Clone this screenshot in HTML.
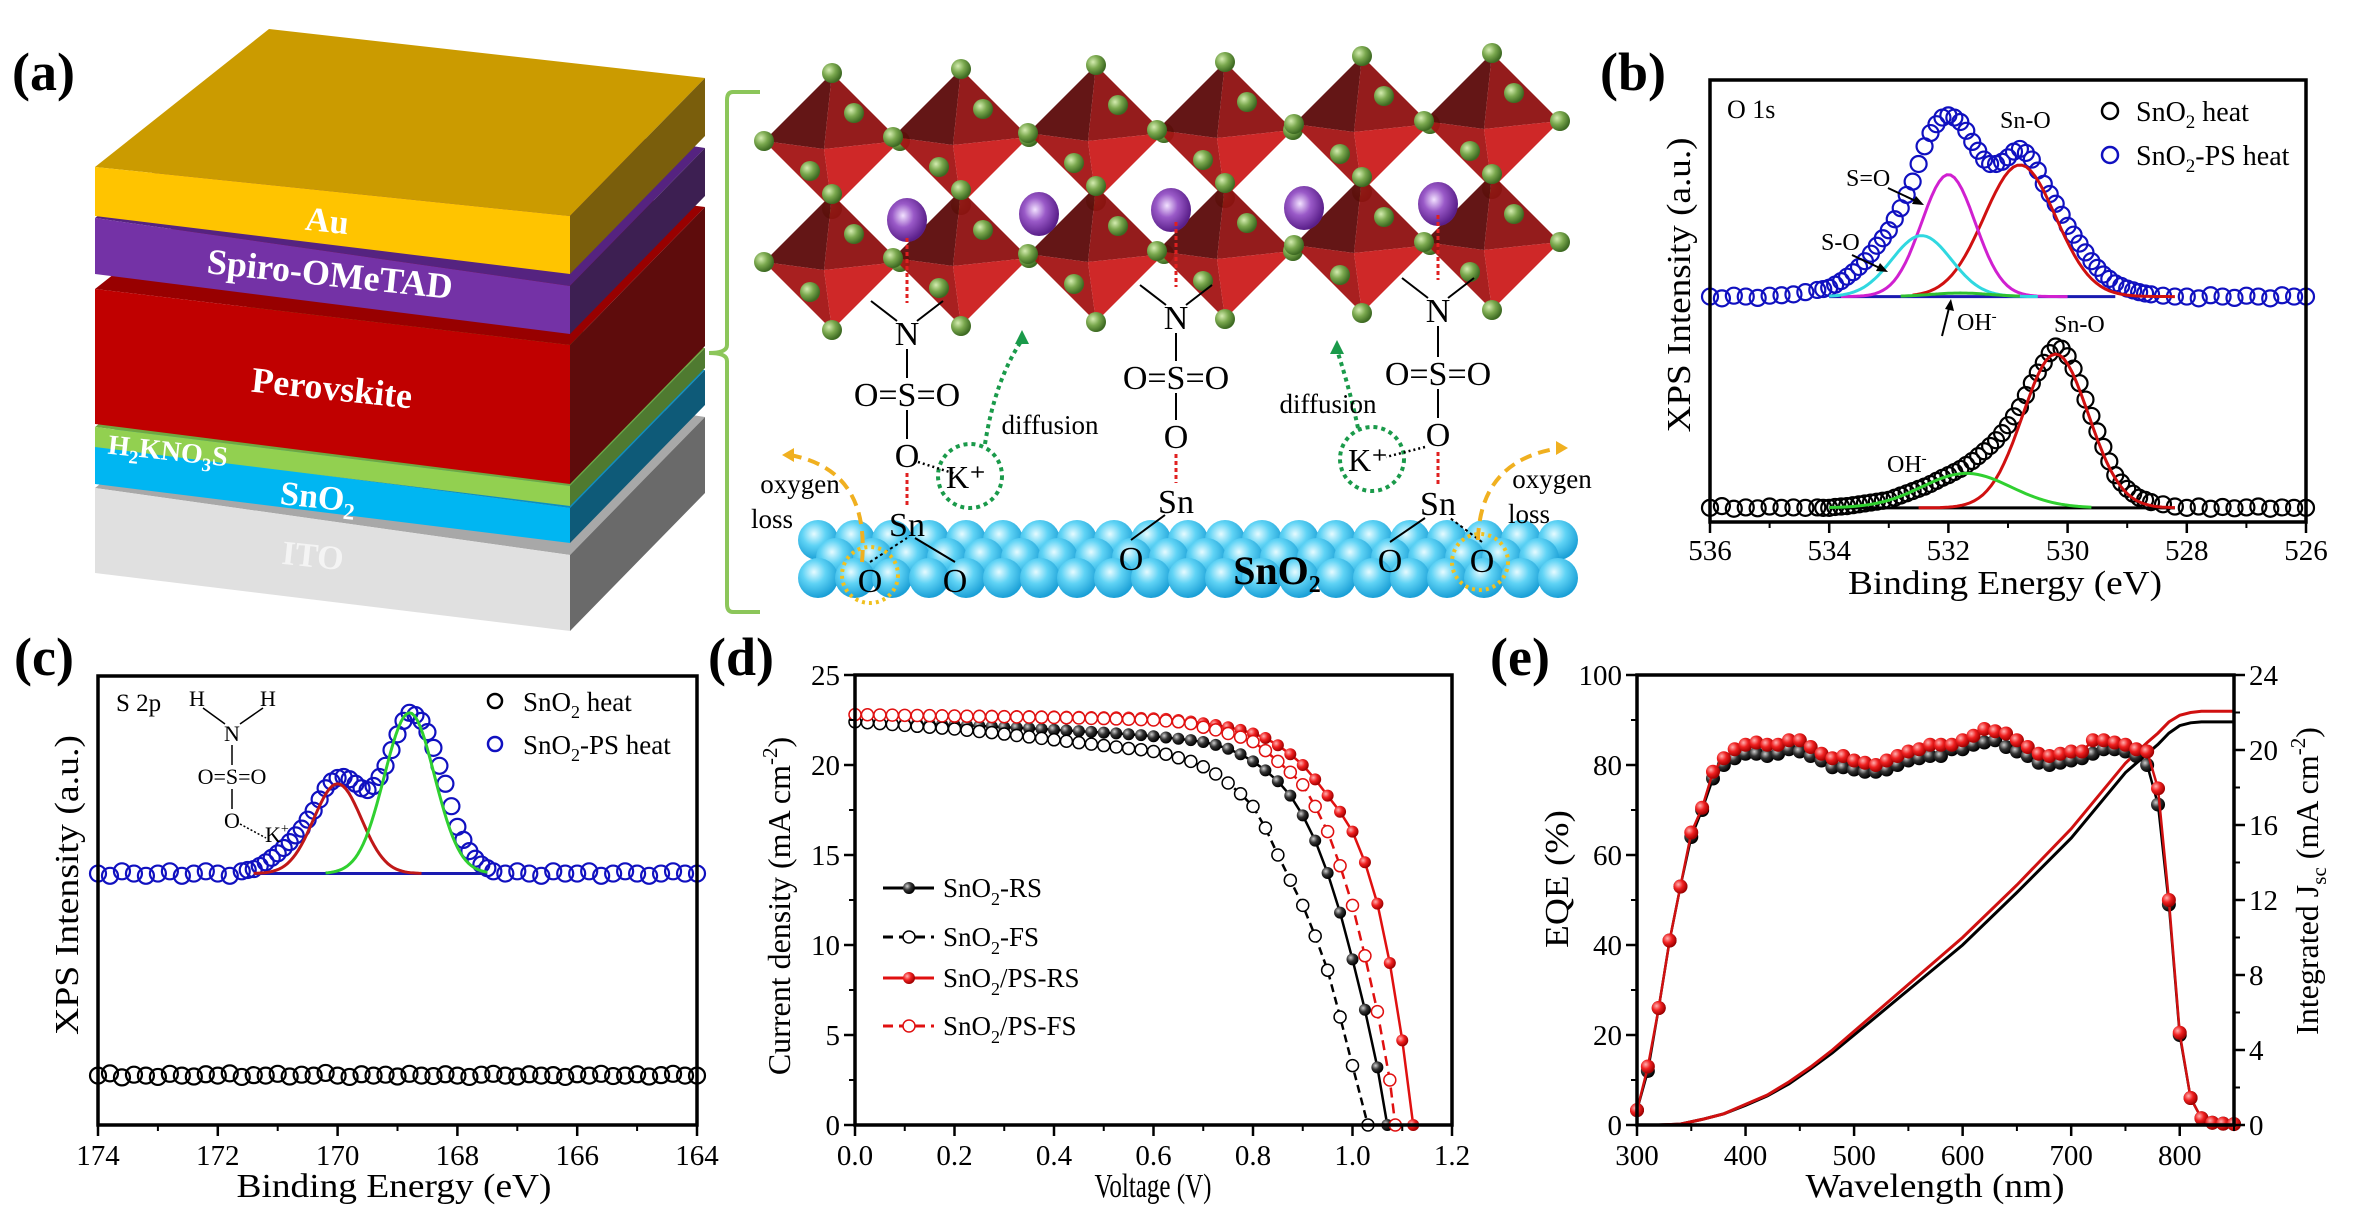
<!DOCTYPE html>
<html><head><meta charset="utf-8"><style>
html,body{margin:0;padding:0;background:#fff;}
svg{display:block;font-family:"Liberation Serif","Times New Roman",serif;}
</style></head><body>
<svg id="fig" width="2353" height="1224" viewBox="0 0 2353 1224" xmlns="http://www.w3.org/2000/svg">
<defs>
<radialGradient id="gGreen" cx="35%" cy="35%" r="65%"><stop offset="0" stop-color="#d4ecb0"/><stop offset="0.5" stop-color="#7aa84e"/><stop offset="1" stop-color="#3d6a22"/></radialGradient>
<radialGradient id="gPurple" cx="40%" cy="40%" r="60%"><stop offset="0" stop-color="#f2e2ff"/><stop offset="0.45" stop-color="#9a5ac8"/><stop offset="1" stop-color="#5a1f8a"/></radialGradient>
<radialGradient id="gBlue" cx="40%" cy="35%" r="65%"><stop offset="0" stop-color="#e6fbff"/><stop offset="0.45" stop-color="#5fd3f5"/><stop offset="1" stop-color="#1a9fd6"/></radialGradient>
<radialGradient id="gRed" cx="35%" cy="35%" r="65%"><stop offset="0" stop-color="#ffb0b0"/><stop offset="0.5" stop-color="#f02020"/><stop offset="1" stop-color="#a00000"/></radialGradient>
<radialGradient id="gBlack" cx="35%" cy="35%" r="65%"><stop offset="0" stop-color="#cfcfcf"/><stop offset="0.5" stop-color="#333"/><stop offset="1" stop-color="#000"/></radialGradient>
</defs>

<text x="12" y="90" font-size="54" font-weight="bold">(a)</text>
<text x="1600" y="90" font-size="54" font-weight="bold">(b)</text>
<text x="14" y="675" font-size="54" font-weight="bold">(c)</text>
<text x="708" y="675" font-size="54" font-weight="bold">(d)</text>
<text x="1490" y="675" font-size="54" font-weight="bold">(e)</text>

<g id="stack"></g>
<g id="stackLabels" font-weight="bold" fill="#fff" text-anchor="middle">
<text x="327" y="232" font-size="34" transform="rotate(6 327 222)">Au</text>
<text x="330" y="286" font-size="36" transform="rotate(6 330 274)">Spiro-OMeTAD</text>
<text x="332" y="400" font-size="36" transform="rotate(6 332 388)">Perovskite</text>
<text x="168" y="460" font-size="28" transform="rotate(6 168 450)">H<tspan font-size="19" dy="7">2</tspan><tspan dy="-7">KNO</tspan><tspan font-size="19" dy="7">3</tspan><tspan dy="-7">S</tspan></text>
<text x="318" y="508" font-size="34" transform="rotate(6 318 498)">SnO<tspan font-size="23" dy="8">2</tspan></text>
<text x="313" y="567" font-size="34" fill="#f4f4f4" transform="rotate(6 313 555)">ITO</text>
</g>
<path d="M760 92 L733 92 Q727 92 727 100 L727 345 Q727 353 709 353 Q727 353 727 361 L727 604 Q727 612 733 612 L760 612" fill="none" stroke="#8cc65a" stroke-width="4"/>

<g id="mol"></g>
<g id="charts"></g>

<g font-size="24">
<text x="1727" y="118" font-size="26">O 1s</text>
<text x="2000" y="128">Sn-O</text>
<text x="1846" y="186">S=O</text>
<text x="1821" y="250">S-O</text>
<text x="1957" y="330">OH<tspan font-size="15" dy="-9">-</tspan></text>
<text x="2054" y="332">Sn-O</text>
<text x="1887" y="472">OH<tspan font-size="15" dy="-9">-</tspan></text>
<line x1="1888" y1="188" x2="1920" y2="203" stroke="#000" stroke-width="2"/>
<polygon points="1924,205 1912,204 1916,196" fill="#000"/>
<line x1="1852" y1="255" x2="1884" y2="270" stroke="#000" stroke-width="2"/>
<polygon points="1888,272 1876,271 1880,263" fill="#000"/>
<line x1="1942" y1="336" x2="1950" y2="304" stroke="#000" stroke-width="2"/>
<polygon points="1951,299 1954,311 1945,309" fill="#000"/>
</g>
<g font-size="28">
<circle cx="2110" cy="111" r="8" fill="none" stroke="#000" stroke-width="2.5"/>
<text x="2136" y="121">SnO<tspan font-size="19" dy="7">2</tspan><tspan dy="-7"> heat</tspan></text>
<circle cx="2110" cy="155" r="8" fill="none" stroke="#1010c0" stroke-width="2.5"/>
<text x="2136" y="165">SnO<tspan font-size="19" dy="7">2</tspan><tspan dy="-7">-PS heat</tspan></text>
</g>

<g font-size="22">
<text x="116" y="711" font-size="25">S 2p</text>
<text x="189" y="706">H</text>
<text x="260" y="706">H</text>
<line x1="203" y1="708" x2="225" y2="724" stroke="#000" stroke-width="1.5"/>
<line x1="263" y1="708" x2="240" y2="724" stroke="#000" stroke-width="1.5"/>
<text x="224" y="741">N</text>
<line x1="232" y1="745" x2="232" y2="765" stroke="#000" stroke-width="1.5"/>
<text x="232" y="784" text-anchor="middle">O=S=O</text>
<line x1="232" y1="789" x2="232" y2="809" stroke="#000" stroke-width="1.5"/>
<text x="224" y="828">O</text>
<line x1="240" y1="824" x2="266" y2="838" stroke="#000" stroke-width="1.5" stroke-dasharray="2,2"/>
<text x="265" y="842">K<tspan font-size="14" dy="-9">+</tspan></text>
</g>
<g font-size="27">
<circle cx="495" cy="701" r="7" fill="none" stroke="#000" stroke-width="2.5"/>
<text x="523" y="711">SnO<tspan font-size="18" dy="7">2</tspan><tspan dy="-7"> heat</tspan></text>
<circle cx="495" cy="744" r="7" fill="none" stroke="#1010c0" stroke-width="2.5"/>
<text x="523" y="754">SnO<tspan font-size="18" dy="7">2</tspan><tspan dy="-7">-PS heat</tspan></text>
</g>

<g font-size="34">
<text x="2005" y="594" text-anchor="middle" textLength="314" lengthAdjust="spacingAndGlyphs">Binding Energy (eV)</text>
<text x="0" y="0" text-anchor="middle" textLength="295" lengthAdjust="spacingAndGlyphs" transform="translate(1690 285) rotate(-90)">XPS Intensity (a.u.)</text>
<text x="394" y="1197" text-anchor="middle" textLength="315" lengthAdjust="spacingAndGlyphs">Binding Energy (eV)</text>
<text x="0" y="0" text-anchor="middle" textLength="300" lengthAdjust="spacingAndGlyphs" transform="translate(78 885) rotate(-90)">XPS Intensity (a.u.)</text>
<text x="1153" y="1197" text-anchor="middle" textLength="117" lengthAdjust="spacingAndGlyphs">Voltage (V)</text>
<text x="0" y="0" text-anchor="middle" font-size="32" transform="translate(790 906) rotate(-90)">Current density (mA cm<tspan font-size="21" dy="-13">-2</tspan><tspan dy="13">)</tspan></text>
<text x="1935" y="1197" text-anchor="middle" textLength="259" lengthAdjust="spacingAndGlyphs">Wavelength (nm)</text>
<text x="0" y="0" text-anchor="middle" textLength="138" lengthAdjust="spacingAndGlyphs" transform="translate(1568 879) rotate(-90)">EQE (%)</text>
<text x="0" y="0" text-anchor="middle" font-size="32" transform="translate(2318 881) rotate(-90)">Integrated J<tspan font-size="21" dy="8">sc</tspan><tspan dy="-8"> (mA cm</tspan><tspan font-size="21" dy="-13">-2</tspan><tspan dy="13">)</tspan></text>
</g>

<g font-size="27">
<line x1="883" y1="888" x2="934" y2="888" stroke="#000" stroke-width="3"/>
<circle cx="909" cy="888" r="6" fill="url(#gBlack)"/>
<text x="943" y="897">SnO<tspan font-size="18" dy="8">2</tspan><tspan dy="-8">-RS</tspan></text>
<line x1="883" y1="937" x2="934" y2="937" stroke="#000" stroke-width="3" stroke-dasharray="10,6"/>
<circle cx="909" cy="937" r="6" fill="#fff" stroke="#000" stroke-width="1.5"/>
<text x="943" y="946">SnO<tspan font-size="18" dy="8">2</tspan><tspan dy="-8">-FS</tspan></text>
<line x1="883" y1="978" x2="934" y2="978" stroke="#e01010" stroke-width="3"/>
<circle cx="909" cy="978" r="6" fill="url(#gRed)"/>
<text x="943" y="987">SnO<tspan font-size="18" dy="8">2</tspan><tspan dy="-8">/PS-RS</tspan></text>
<line x1="883" y1="1026" x2="934" y2="1026" stroke="#e01010" stroke-width="3" stroke-dasharray="10,6"/>
<circle cx="909" cy="1026" r="6" fill="#fff" stroke="#e01010" stroke-width="1.5"/>
<text x="943" y="1035">SnO<tspan font-size="18" dy="8">2</tspan><tspan dy="-8">/PS-FS</tspan></text>
</g>
</svg>

<script>
// ---------------- DATA ----------------
// Panel b (O 1s XPS), intensity in arbitrary units 0..100 of plot height
const bEnergy = [536,535.8,535.6,535.4,535.2,535,534.8,534.6,534.4,
534.2,534.1,534,533.9,533.8,533.7,533.6,533.5,533.4,533.3,533.2,533.1,533,532.9,532.8,532.7,532.6,532.5,532.4,532.3,532.2,532.1,532,531.9,531.8,531.7,531.6,531.5,531.4,531.3,531.2,531.1,531,530.9,530.8,530.7,530.6,530.5,530.4,530.3,530.2,530.1,530,529.9,529.8,529.7,529.6,529.5,529.4,529.3,529.2,529.1,529,528.9,528.8,528.7,528.6,
528.4,528.2,528,527.8,527.6,527.4,527.2,527,526.8,526.6,526.4,526.2,526];
const bPS = [51,50.6,51.2,51,50.7,51.2,51.3,51.5,52,
52.5,52.7,53,53.7,54.5,55.5,56.5,57.7,59,60.7,62.5,64.2,66,68.5,71,74,77,81,85,88,90,91.5,92,91.5,90.5,88.5,86,84,82,81,81,81.5,82.5,83.8,84.4,83.5,82,79.5,76.5,74.2,72,69.5,67,65,63,61,59,57.5,56,55,54,53.4,52.8,52.4,52,51.7,51.5,
51.2,51,51,50.6,51.3,51,50.7,51.2,51,50.6,51.3,51,51];
const bSnO2 = [3.2,3.6,3,3.3,3.1,3.5,3.2,3.3,3.2,
3.3,3.2,3.2,3.4,3.5,3.6,3.8,4,4.2,4.4,4.6,4.8,5,5.5,6,6.5,7,7.5,8,8.6,9.3,10,10.6,11.3,12,12.9,13.8,14.9,16,17.2,18.5,20.1,21.9,23.9,26,28.7,31.4,33.8,36,38.2,39.7,39.2,37.5,34.7,31.4,27.7,24,20.5,17,13.7,10.6,8.9,7.5,6.4,5.5,5,4.5,
4,3.5,3.2,3.5,3,3.4,3.1,3.3,3.5,3,3.3,3.2,3.2];
const bFitNames = ['ps-sn-o','ps-s-double-o','ps-s-o','ps-oh','sno2-sn-o','sno2-oh'];
const bFitCenter = [530.8,532.0,532.45,531.8,530.2,531.7];
const bFitHeight = [29.8,27.6,13.8,0.8,34.8,7.8];
const bFitSigma = [0.6,0.45,0.5,0.5,0.55,0.75];
const bFitBase = [51,51,51,51,3.2,3.2];
const bFitFrom = [532.6,533.8,534.0,532.8,532.5,534.0];
const bFitTo = [528.2,530.0,530.5,530.8,528.2,529.6];
const bFitColor = ['#d01010','#d020d0','#30d8e0','#30c030','#d01010','#30d030'];

// Panel c (S 2p XPS)
const cEnergyPS = [174,173.8,173.6,173.4,173.2,173,172.8,172.6,172.4,172.2,172,171.8,
171.6,171.5,171.4,171.3,171.2,171.1,171,170.9,170.8,170.7,170.6,170.5,170.4,170.3,170.2,170.1,170,169.9,169.8,169.7,169.6,169.5,169.4,169.3,169.2,169.1,169,168.9,168.8,168.7,168.6,168.5,168.4,168.3,168.2,168.1,168,167.9,167.8,167.7,167.6,167.5,167.4,
167.2,167,166.8,166.6,166.4,166.2,166,165.8,165.6,165.4,165.2,165,164.8,164.6,164.4,164.2,164];
const cPS = [56,55.5,56.5,56,55.5,56,56.5,55.5,56,56.5,56,55.5,
56.5,56.8,57,57.7,58.5,59.5,60.5,61.7,63,64.5,66,68,70,72.5,75,76.5,77.3,77.5,77,76,75,74.6,75.5,77.5,80,83.5,87,90,91.8,91.3,90,87.5,84,80,76,71,66.4,63.5,61,59.3,58,57.2,56.5,
56,56.5,56,55.5,56.5,56,56,56.5,55.5,56,56.5,56,55.5,56,56.5,56,56];
const cEnergySnO2 = [174,173.8,173.6,173.4,173.2,173,172.8,172.6,172.4,172.2,172,171.8,171.6,171.4,171.2,171,170.8,170.6,170.4,170.2,170,169.8,169.6,169.4,169.2,169,168.8,168.6,168.4,168.2,168,167.8,167.6,167.4,167.2,167,166.8,166.6,166.4,166.2,166,165.8,165.6,165.4,165.2,165,164.8,164.6,164.4,164.2,164];
const cSnO2 = [11,11.5,10.6,11.2,11,10.7,11.4,11,10.8,11.3,11,11.5,10.7,11.1,11,11.4,10.8,11.2,11,11.6,11,10.7,11.3,11,11.2,10.8,11.4,11,10.9,11.3,11,10.7,11.2,11.4,11,10.8,11.3,11,11.1,10.7,11.3,11,11.4,10.9,11,11.3,10.8,11.1,11.4,11,11];
const cFitCenter = [170.0,168.8];
const cFitHeight = [20,35.8];
const cFitSigma = [0.4,0.42];
const cFitBase = [56,56];
const cFitFrom = [171.4,170.2];
const cFitTo = [168.6,167.5];
const cFitColor = ['#c01818','#30d030'];

// Panel d (J-V)
const dV_RS = [0,0.025,0.05,0.075,0.1,0.125,0.15,0.175,0.2,0.225,0.25,0.275,0.3,0.325,0.35,0.375,0.4,0.425,0.45,0.475,0.5,0.525,0.55,0.575,0.6,0.625,0.65,0.675,0.7,0.725,0.75,0.775,0.8,0.825,0.85,0.875,0.9,0.925,0.95,0.975,1.0,1.025,1.05,1.07];
const dJ_RS = [22.4,22.38,22.36,22.34,22.32,22.3,22.27,22.25,22.22,22.2,22.17,22.14,22.1,22.07,22.04,22.0,21.96,21.92,21.88,21.84,21.8,21.76,21.71,21.66,21.6,21.53,21.46,21.38,21.28,21.12,20.9,20.6,20.2,19.7,19.1,18.3,17.2,15.8,14.0,11.8,9.2,6.4,3.2,0];
const dV_FS = [0,0.025,0.05,0.075,0.1,0.125,0.15,0.175,0.2,0.225,0.25,0.275,0.3,0.325,0.35,0.375,0.4,0.425,0.45,0.475,0.5,0.525,0.55,0.575,0.6,0.625,0.65,0.675,0.7,0.725,0.75,0.775,0.8,0.825,0.85,0.875,0.9,0.925,0.95,0.975,1.0,1.031];
const dJ_FS = [22.4,22.35,22.3,22.25,22.2,22.15,22.1,22.05,22.0,21.93,21.86,21.8,21.72,21.64,21.56,21.48,21.4,21.32,21.24,21.16,21.08,21.0,20.92,20.85,20.75,20.6,20.4,20.2,19.9,19.5,19.0,18.4,17.7,16.5,15.0,13.6,12.2,10.5,8.6,6.0,3.3,0];
const dV_PSRS = [0,0.025,0.05,0.075,0.1,0.125,0.15,0.175,0.2,0.225,0.25,0.275,0.3,0.325,0.35,0.375,0.4,0.425,0.45,0.475,0.5,0.525,0.55,0.575,0.6,0.625,0.65,0.675,0.7,0.725,0.75,0.775,0.8,0.825,0.85,0.875,0.9,0.925,0.95,0.975,1.0,1.025,1.05,1.075,1.1,1.122];
const dJ_PSRS = [22.8,22.8,22.79,22.79,22.78,22.78,22.77,22.77,22.76,22.75,22.75,22.74,22.73,22.72,22.72,22.71,22.7,22.69,22.68,22.67,22.66,22.65,22.64,22.62,22.6,22.56,22.5,22.42,22.32,22.22,22.1,21.95,21.75,21.5,21.1,20.6,20.0,19.2,18.3,17.4,16.3,14.6,12.3,9.0,4.7,0];
const dV_PSFS = [0,0.025,0.05,0.075,0.1,0.125,0.15,0.175,0.2,0.225,0.25,0.275,0.3,0.325,0.35,0.375,0.4,0.425,0.45,0.475,0.5,0.525,0.55,0.575,0.6,0.625,0.65,0.675,0.7,0.725,0.75,0.775,0.8,0.825,0.85,0.875,0.9,0.925,0.95,0.975,1.0,1.025,1.05,1.075,1.086];
const dJ_PSFS = [22.8,22.79,22.78,22.77,22.76,22.75,22.74,22.73,22.72,22.71,22.7,22.69,22.68,22.67,22.66,22.65,22.64,22.62,22.61,22.59,22.58,22.56,22.54,22.52,22.5,22.45,22.4,22.3,22.1,21.95,21.75,21.55,21.3,20.8,20.2,19.6,18.9,17.7,16.3,14.4,12.2,9.4,6.3,2.5,0];

// Panel e (EQE + integrated Jsc)
const eWave = [300,310,320,330,340,350,360,370,380,390,400,410,420,430,440,450,460,470,480,490,500,510,520,530,540,550,560,570,580,590,600,610,620,630,640,650,660,670,680,690,700,710,720,730,740,750,760,770,780,790,800,810,820,830,840,850];
const eEQE_PS = [3.3,13,26,41,53,65,70.5,78.5,81.5,83.5,84.5,85,84.5,84.5,85.5,85.5,84,82.5,81.5,82,81,80.5,80,81,82,83,83.5,84.5,84.5,84.5,85.5,86.5,88,87.5,87,85.5,84,82.5,82,82.5,83,83,85.5,85.5,85,84.5,83.5,83,74.8,50,20.5,6,1.5,0.5,0.3,0.2];
const eEQE_SnO2 = [3.3,12,26,41,53,64,70,77,80,81.5,82.5,82.5,82,82.5,83.5,83,82,81,79.5,79.5,79,78.5,78.5,79,80,81,81.5,82,82,83.5,83.5,84.5,85,85.5,84,83,82,80.5,80,80.5,81,81.5,82.5,83.5,83.5,83,82,80,71.2,49,20,6,1.5,0.5,0.3,0.2];
const eJscWave = [300,320,340,360,380,400,420,440,460,480,500,550,600,650,700,750,770,780,790,800,810,820,850];
const eJsc_PS = [0,0,0.05,0.3,0.6,1.1,1.6,2.3,3.1,4.0,5.0,7.5,10.0,12.8,15.8,19.3,20.4,20.9,21.5,21.85,22.0,22.07,22.07];
const eJsc_SnO2 = [0,0,0.05,0.3,0.6,1.05,1.55,2.2,3.0,3.85,4.8,7.2,9.6,12.4,15.3,18.8,19.8,20.3,20.9,21.3,21.45,21.5,21.5];

// Tick labels
const bTicks = [536,534,532,530,528,526];
const cTicks = [174,172,170,168,166,164];
const dXTicks = ['0.0','0.2','0.4','0.6','0.8','1.0','1.2'];
const dYTicks = [0,5,10,15,20,25];
const eXTicks = [300,400,500,600,700,800];
const eYTicks = [0,20,40,60,80,100];
const eY2Ticks = [0,4,8,12,16,20,24];

// ---------------- HELPERS ----------------
const NS = 'http://www.w3.org/2000/svg';
const svg = document.getElementById('fig');
function mk(tag, attrs, parent){
  const e = document.createElementNS(NS, tag);
  for (const k in attrs) e.setAttribute(k, attrs[k]);
  (parent || svg).appendChild(e);
  return e;
}
function lin(d0,d1,r0,r1){ return v => r0 + (v-d0)/(d1-d0)*(r1-r0); }
function pathD(xs, ys, X, Y){ let s=''; for(let i=0;i<xs.length;i++){ s += (i?'L':'M') + X(xs[i]).toFixed(1) + ' ' + Y(ys[i]).toFixed(1); } return s; }

const charts = document.getElementById('charts');

function frame(name){
  const g = mk('g', {}, charts);
  
  
  return g;
}
function box(g, x0, x1, y0, y1){
  const r = mk('rect', {x:x0, y:y0, width:x1-x0, height:y1-y0, fill:'none', stroke:'#000', 'stroke-width':3.5}, g);
  
  
}
function xTicks(g, X, vals, labels, y, minorVals, labelY){
  vals.forEach((v,i)=>{
    const t = mk('line', {x1:X(v), x2:X(v), y1:y, y2:y+11, stroke:'#000', 'stroke-width':2.5}, g);
    
    
    const l = mk('text', {x:X(v), y:labelY, 'font-size':29, 'text-anchor':'middle'}, g);
    
    
    l.textContent = labels[i];
  });
  minorVals.forEach(v=>{
    const t = mk('line', {x1:X(v), x2:X(v), y1:y, y2:y+6, stroke:'#000', 'stroke-width':2}, g);
    
    
  });
}
function yTicks(g, Y, vals, labels, x, dir, minorVals){
  vals.forEach((v,i)=>{
    const t = mk('line', {x1:x, x2:x+dir*11, y1:Y(v), y2:Y(v), stroke:'#000', 'stroke-width':2.5}, g);
    
    
    const l = mk('text', {x:x+dir*15, y:Y(v)+10, 'font-size':29, 'text-anchor': dir<0?'end':'start'}, g);
    
    
    l.textContent = labels[i];
  });
  minorVals.forEach(v=>{
    const t = mk('line', {x1:x, x2:x+dir*6, y1:Y(v), y2:Y(v), stroke:'#000', 'stroke-width':2}, g);
    
    
  });
}
function gaussPath(X, Y, c, h, s, base, from, to){
  const pts=[]; const n=60;
  for(let i=0;i<=n;i++){ const e = from + (to-from)*i/n; pts.push([X(e), Y(base + h*Math.exp(-((e-c)*(e-c))/(2*s*s)))]); }
  return 'M'+pts.map(p=>p[0].toFixed(1)+' '+p[1].toFixed(1)).join('L');
}

// ---------------- PANEL B ----------------
(function(){
  const g = frame('panel-b-o1s-xps');
  const X = lin(536,526,1710,2306), Y = lin(0,100,522,80);
  const s1 = mk('g', {}, g);
  
  
  bEnergy.forEach((e,i)=>{
    const c = mk('circle', {cx:X(e), cy:Y(bSnO2[i]), r:8, fill:'none', stroke:'#000', 'stroke-width':2.2}, s1);
    
    
  });
  const s2 = mk('g', {}, g);
  
  
  bEnergy.forEach((e,i)=>{
    const c = mk('circle', {cx:X(e), cy:Y(bPS[i]), r:8, fill:'none', stroke:'#1010c0', 'stroke-width':2.2}, s2);
    
    
  });
  const bl1 = mk('line', {x1:X(534), x2:X(529.2), y1:Y(51), y2:Y(51), stroke:'#1a1ab0', 'stroke-width':3}, g);
  
  
  const bl2 = mk('line', {x1:X(534), x2:X(528.2), y1:Y(3.2), y2:Y(3.2), stroke:'#000', 'stroke-width':3}, g);
  
  
  bFitCenter.forEach((c,i)=>{
    const p = mk('path', {d:gaussPath(X,Y,c,bFitHeight[i],bFitSigma[i],bFitBase[i],bFitFrom[i],bFitTo[i]), fill:'none', stroke:bFitColor[i], 'stroke-width':3}, g);
    
    
  });
  box(g,1710,2306,80,522);
  xTicks(g, X, bTicks, bTicks.map(String), 522, [535,533,531,529,527], 560);
})();

// ---------------- PANEL C ----------------
(function(){
  const g = frame('panel-c-s2p-xps');
  const X = lin(174,164,98,697), Y = lin(0,100,1125,676);
  const s1 = mk('g', {}, g);
  
  
  cEnergySnO2.forEach((e,i)=>{
    const c = mk('circle', {cx:X(e), cy:Y(cSnO2[i]), r:8, fill:'none', stroke:'#000', 'stroke-width':2.2}, s1);
    
    
  });
  const s2 = mk('g', {}, g);
  
  
  cEnergyPS.forEach((e,i)=>{
    const c = mk('circle', {cx:X(e), cy:Y(cPS[i]), r:8, fill:'none', stroke:'#1010c0', 'stroke-width':2.2}, s2);
    
    
  });
  const bl = mk('line', {x1:X(171.4), x2:X(167.5), y1:Y(56), y2:Y(56), stroke:'#1a1ab0', 'stroke-width':3}, g);
  
  
  cFitCenter.forEach((c,i)=>{
    const p = mk('path', {d:gaussPath(X,Y,c,cFitHeight[i],cFitSigma[i],cFitBase[i],cFitFrom[i],cFitTo[i]), fill:'none', stroke:cFitColor[i], 'stroke-width':3}, g);
    
    
  });
  box(g,98,697,676,1125);
  xTicks(g, X, cTicks, cTicks.map(String), 1125, [173,171,169,167,165], 1165);
})();

// ---------------- PANEL D ----------------
(function(){
  const g = frame('panel-d-jv-curves');
  const X = lin(0,1.2,855,1452), Y = lin(0,25,1125,675);
  const series = [
    {name:'sno2-rs', V:dV_RS, J:dJ_RS, color:'#000', dash:'', filled:'url(#gBlack)'},
    {name:'sno2-fs', V:dV_FS, J:dJ_FS, color:'#000', dash:'8,5', filled:null},
    {name:'sno2-ps-rs', V:dV_PSRS, J:dJ_PSRS, color:'#e01010', dash:'', filled:'url(#gRed)'},
    {name:'sno2-ps-fs', V:dV_PSFS, J:dJ_PSFS, color:'#e01010', dash:'10,6', filled:null}
  ];
  series.forEach(s=>{
    const sg = mk('g', {}, g);
    
    
    const p = mk('path', {d:pathD(s.V,s.J,X,Y), fill:'none', stroke:s.color, 'stroke-width':2.5, 'stroke-dasharray':s.dash}, sg);
    
    
    s.V.forEach((v,i)=>{
      const c = mk('circle', s.filled ? {cx:X(v), cy:Y(s.J[i]), r:6, fill:s.filled} : {cx:X(v), cy:Y(s.J[i]), r:6, fill:'#fff', stroke:s.color, 'stroke-width':1.5}, sg);
      
      
    });
  });
  box(g,855,1452,675,1125);
  xTicks(g, X, dXTicks.map(Number), dXTicks, 1125, [0.1,0.3,0.5,0.7,0.9,1.1], 1165);
  yTicks(g, Y, dYTicks, dYTicks.map(String), 855, -1, [2.5,7.5,12.5,17.5,22.5]);
})();

// ---------------- PANEL E ----------------
(function(){
  const g = frame('panel-e-eqe');
  const X = lin(300,850,1637,2234), Y = lin(0,100,1125,675), Y2 = lin(0,24,1125,675);
  const jg = mk('g', {}, g);
  
  
  const j1 = mk('path', {d:pathD(eJscWave,eJsc_SnO2,X,Y2), fill:'none', stroke:'#000', 'stroke-width':3}, jg);
  
  
  const j2 = mk('path', {d:pathD(eJscWave,eJsc_PS,X,Y2), fill:'none', stroke:'#d01010', 'stroke-width':3}, jg);
  
  
  const sets = [
    {name:'sno2', vals:eEQE_SnO2, color:'#000', fill:'url(#gBlack)'},
    {name:'sno2-ps', vals:eEQE_PS, color:'#d01010', fill:'url(#gRed)'}
  ];
  sets.forEach(s=>{
    const sg = mk('g', {}, g);
    
    
    const p = mk('path', {d:pathD(eWave,s.vals,X,Y), fill:'none', stroke:s.color, 'stroke-width':2.5}, sg);
    
    
    eWave.forEach((w,i)=>{
      const c = mk('circle', {cx:X(w), cy:Y(s.vals[i]), r:7, fill:s.fill}, sg);
      
      
    });
  });
  box(g,1637,2234,675,1125);
  xTicks(g, X, eXTicks, eXTicks.map(String), 1125, [350,450,550,650,750,850], 1165);
  yTicks(g, Y, eYTicks, eYTicks.map(String), 1637, -1, [10,30,50,70,90]);
  yTicks(g, Y2, eY2Ticks, eY2Ticks.map(String), 2234, 1, [2,6,10,14,18,22]);
})();

// ---------------- PANEL A: device stack ----------------
(function(){
  const st = document.getElementById('stack');
  const layers = [
    {name:'ito-layer', lt:488, lb:573, rt:555, rb:631, front:'#e0e0e0', top:'#a8a8a8', side:'#6a6a6a'},
    {name:'sno2-layer', lt:445, lb:484, rt:508, rb:543, front:'#00b6f2', top:'#0a8fc4', side:'#0e5a78'},
    {name:'h2kno3s-layer', lt:427, lb:447, rt:486, rb:506, front:'#92d050', top:'#70a840', side:'#4f7a30'},
    {name:'perovskite-layer', lt:289, lb:424, rt:345, rb:484, front:'#c00000', top:'#980000', side:'#5e0c0c'},
    {name:'spiro-layer', lt:218, lb:274, rt:286, rb:334, front:'#7432a6', top:'#552380', side:'#3d1f52'},
    {name:'au-layer', lt:167, lb:216, rt:216, rb:274, front:'#ffc400', top:'#cb9b00', side:'#7a5e0c'}
  ];
  layers.forEach(L=>{
    const g = mk('g', {}, st);
    
    
    const top = mk('polygon', {points:`95,${L.lt} 269,${L.lt-138} 705,${L.rt-138} 570,${L.rt}`, fill:L.top}, g);
    
    
    const side = mk('polygon', {points:`570,${L.rt} 705,${L.rt-138} 705,${L.rb-138} 570,${L.rb}`, fill:L.side}, g);
    
    
    const front = mk('polygon', {points:`95,${L.lt} 570,${L.rt} 570,${L.rb} 95,${L.lb}`, fill:L.front}, g);
    
    
  });
})();

// ---------------- PANEL A: molecular schematic ----------------
(function(){
  const m = document.getElementById('mol');
  const rowsY = [540,558,578];
  rowsY.forEach((y,ri)=>{
    for(let x=818 + (ri===1?18:0); x<=1562; x+=37){
      const c = mk('circle', {cx:x, cy:y, r:20, fill:'url(#gBlue)'}, m);
      
      
    }
  });
  const topX = [832,961,1096,1225,1362,1492], topY = [141,137,133,130,124,121];
  const rows = [{dy:0},{dy:121}];
  rows.forEach(r=>{
    topX.forEach((cx,i)=>{
      const cy = topY[i] + r.dy, hw = 68, hh = 68, ox = cx-8, oy = cy+8;
      const g = mk('g', {}, m);
      
      
      const faces = [
        [`${cx},${cy-hh} ${cx-hw},${cy} ${ox},${oy}`, '#5c0a0a'],
        [`${cx},${cy-hh} ${cx+hw},${cy} ${ox},${oy}`, '#8e1010'],
        [`${cx-hw},${cy} ${cx},${cy+hh} ${ox},${oy}`, '#a31414'],
        [`${cx+hw},${cy} ${cx},${cy+hh} ${ox},${oy}`, '#cc1c1c']
      ];
      faces.forEach(f=>{
        const p = mk('polygon', {points:f[0], fill:f[1], 'fill-opacity':0.95}, g);
        
        
      });
      [[cx,cy-hh],[cx-hw,cy],[cx+hw,cy],[cx,cy+hh],[cx+22,cy-28],[cx-22,cy+30]].forEach(pt=>{
        const b = mk('circle', {cx:pt[0], cy:pt[1], r:10, fill:'url(#gGreen)'}, g);
        
        
      });
    });
  });
  [[907,220],[1039,214],[1171,210],[1304,208],[1438,204]].forEach(p=>{
    const c = mk('ellipse', {cx:p[0], cy:p[1], rx:20, ry:22, fill:'url(#gPurple)'}, m);
    
    
  });
  const cols = [
    {x:907, n:333, oso:394, o:455, sn:524},
    {x:1176, n:317, oso:377, o:436, sn:501},
    {x:1438, n:310, oso:373, o:434, sn:503}
  ];
  cols.forEach(c=>{
    const g = mk('g', {'font-size':34, 'text-anchor':'middle'}, m);
    
    
    const rd = mk('line', {x1:c.x, x2:c.x, y1:c.n-95, y2:c.n-30, stroke:'#e02020', 'stroke-width':3, 'stroke-dasharray':'4,3'}, g);
    
    
    [[-36,-32,-10,-12],[36,-32,10,-12]].forEach(b=>{
      const l = mk('line', {x1:c.x+b[0], y1:c.n+b[1], x2:c.x+b[2], y2:c.n+b[3], stroke:'#000', 'stroke-width':2}, g);
      
      
    });
    const tn = mk('text', {x:c.x, y:c.n+12}, g);
    
    
    tn.textContent = 'N';
    const l1 = mk('line', {x1:c.x, x2:c.x, y1:c.n+16, y2:c.oso-16, stroke:'#000', 'stroke-width':2}, g);
    
    
    const ts = mk('text', {x:c.x, y:c.oso+12}, g);
    
    
    ts.textContent = 'O=S=O';
    const l2 = mk('line', {x1:c.x, x2:c.x, y1:c.oso+16, y2:c.o-16, stroke:'#000', 'stroke-width':2}, g);
    
    
    const to = mk('text', {x:c.x, y:c.o+12}, g);
    
    
    to.textContent = 'O';
    const rd2 = mk('line', {x1:c.x, x2:c.x, y1:c.o+18, y2:c.sn-18, stroke:'#e02020', 'stroke-width':3, 'stroke-dasharray':'4,3'}, g);
    
    
    const tsn = mk('text', {x:c.x, y:c.sn+12}, g);
    
    
    tsn.textContent = 'Sn';
  });
  const subO = [[870,580,907,538],[955,580,915,538],[1131,558,1165,515],[1390,560,1425,518],[1482,560,1450,518]];
  subO.forEach((o,i)=>{
    const l = mk('line', {x1:o[0], y1:o[1]-18, x2:o[2], y2:o[3], stroke:'#000', 'stroke-width':2, 'stroke-dasharray': (i===0||i===4)?'3,3':''}, m);
    
    
    const t = mk('text', {x:o[0], y:o[1]+12, 'font-size':34, 'text-anchor':'middle'}, m);
    
    
    t.textContent = 'O';
  });
  const sn = mk('text', {x:1277, y:584, 'font-size':40, 'font-weight':'bold', 'text-anchor':'middle'}, m);
  
  
  sn.textContent = 'SnO₂';
  [[970,476,918,462],[1372,459,1425,447]].forEach(k=>{
    const c = mk('circle', {cx:k[0], cy:k[1], r:32, fill:'none', stroke:'#1a9a4a', 'stroke-width':4, 'stroke-dasharray':'4,4'}, m);
    
    
    const t = mk('text', {x:k[0]-4, y:k[1]+12, 'font-size':32, 'text-anchor':'middle'}, m);
    
    
    t.textContent = 'K⁺';
    const l = mk('line', {x1:k[2], y1:k[3], x2:k[0]+(k[2]<k[0]?-14:14), y2:k[1]-2, stroke:'#000', 'stroke-width':2.5, 'stroke-dasharray':'2,3'}, m);
    
    
  });
  [['M985 444 Q995 380 1022 340', 1022, 340],['M1358 428 Q1350 390 1337 350', 1337, 350]].forEach(a=>{
    const p = mk('path', {d:a[0], fill:'none', stroke:'#1a9a4a', 'stroke-width':4, 'stroke-dasharray':'4,4'}, m);
    
    
    const h = mk('polygon', {points:`${a[1]},${a[2]-10} ${a[1]-7},${a[2]+4} ${a[1]+7},${a[2]+4}`, fill:'#1a9a4a'}, m);
    
    
  });
  [[1050,434,'diffusion'],[1328,413,'diffusion'],[800,493,'oxygen'],[772,528,'loss'],[1552,488,'oxygen'],[1529,523,'loss']].forEach(t=>{
    const e = mk('text', {x:t[0], y:t[1], 'font-size':27, 'text-anchor':'middle'}, m);
    
    
    e.textContent = t[2];
  });
  [['M862 562 Q870 470 790 455', 782, 455, -1],['M1478 540 Q1480 460 1560 448', 1568, 448, 1]].forEach(a=>{
    const p = mk('path', {d:a[0], fill:'none', stroke:'#f0b020', 'stroke-width':4, 'stroke-dasharray':'12,7'}, m);
    
    
    const h = mk('polygon', {points:`${a[1]},${a[2]} ${a[1]-a[3]*12},${a[2]-7} ${a[1]-a[3]*12},${a[2]+7}`, fill:'#f0b020'}, m);
    
    
  });
  [[870,575],[1480,562]].forEach(o=>{
    const c = mk('circle', {cx:o[0], cy:o[1], r:28, fill:'none', stroke:'#f0c020', 'stroke-width':4, 'stroke-dasharray':'3,4'}, m);
    
    
  });
})();
</script>
</body></html>
